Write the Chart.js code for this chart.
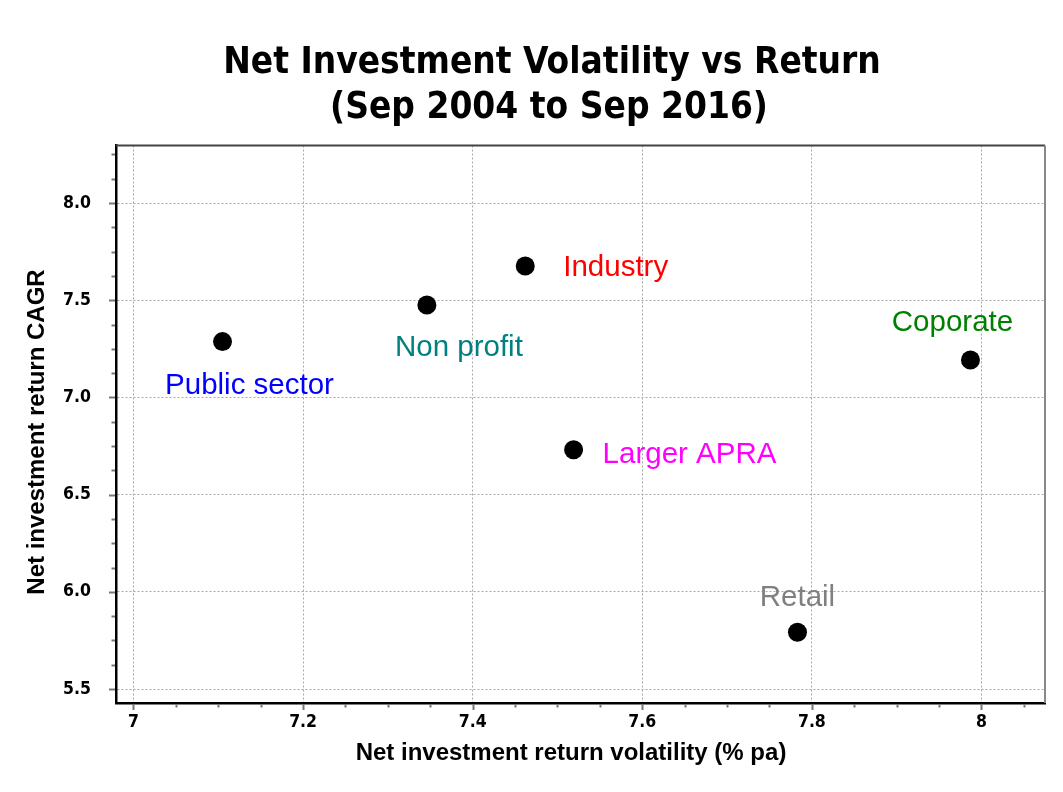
<!DOCTYPE html>
<html><head><meta charset="utf-8">
<script src="https://cdn.jsdelivr.net/npm/chart.js@4/dist/chart.umd.min.js"></script>
<style>html,body{margin:0;padding:0;background:#fff;}</style>
</head><body>
<canvas id="c" width="1063" height="792"></canvas>
<script>
// ---- data ----
const categories = ['Public sector', 'Non profit', 'Industry', 'Coporate', 'Larger APRA', 'Retail'];
const volatility = [7.105, 7.346, 7.462, 7.987, 7.519, 7.783];
const cagr = [7.287, 7.475, 7.676, 7.192, 6.731, 5.792];
const xTickValues = [7, 7.2, 7.4, 7.6, 7.8, 8];
const yTickValues = [5.5, 6.0, 6.5, 7.0, 7.5, 8.0];
const titleLines = ['Net Investment Volatility vs Return', '(Sep 2004 to Sep 2016)'];
const xAxisTitle = 'Net investment return volatility (% pa)';
const yAxisTitle = 'Net investment return CAGR';

// ---- styles ----
const labelColors = ['#0000FF', '#008080', '#FF0000', '#008000', '#FF00FF', '#808080'];
const labelOffsets = [
  {dx: 27, dy: 44, align: 'center'},
  {dx: 32, dy: 43, align: 'center'},
  {dx: 38, dy: 2, align: 'left'},
  {dx: -18, dy: -37, align: 'center'},
  {dx: 29, dy: 5, align: 'left'},
  {dx: 0, dy: -34, align: 'center'}
];
const tickFont = {family: "'DejaVu Sans Condensed', 'DejaVu Sans', sans-serif", size: 17.5, weight: 'bold'};
const titleFontCss = "bold 36.7px 'DejaVu Sans Condensed', 'DejaVu Sans', sans-serif";
const axisTitleFontCss = "bold 24px 'Liberation Sans', Arial, sans-serif";

const pointLabels = {
  id: 'pointLabels',
  afterDatasetsDraw(chart) {
    const ctx = chart.ctx;
    const meta = chart.getDatasetMeta(0);
    ctx.save();
    ctx.font = "29.5px 'Liberation Sans', Arial, sans-serif";
    ctx.textBaseline = 'middle';
    meta.data.forEach((pt, i) => {
      const o = labelOffsets[i];
      ctx.fillStyle = labelColors[i];
      ctx.textAlign = o.align;
      ctx.fillText(categories[i], pt.x + o.dx, pt.y + o.dy);
    });
    ctx.restore();
  }
};

const frame = {
  id: 'frame',
  afterDraw(chart) {
    const {ctx, chartArea: a, scales: {x, y}} = chart;
    ctx.save();
    ctx.lineWidth = 2;
    ctx.strokeStyle = '#444';
    ctx.beginPath(); ctx.moveTo(a.left, a.top); ctx.lineTo(a.right, a.top); ctx.stroke();
    ctx.strokeStyle = '#888';
    ctx.beginPath(); ctx.moveTo(a.right, a.top); ctx.lineTo(a.right, a.bottom); ctx.stroke();
    // tick marks (major + minor)
    ctx.strokeStyle = '#777';
    ctx.lineWidth = 2;
    const xs = 0.05, ys = 0.125;
    for (let k = Math.ceil(x.min / xs); k * xs <= x.max; k++) {
      const v = k * xs;
      const major = Math.abs(v / 0.2 - Math.round(v / 0.2)) < 1e-6;
      const px = Math.round(x.getPixelForValue(v)) + 0.5;
      const len = major ? 6 : 3.5;
      ctx.beginPath(); ctx.moveTo(px, a.bottom + 1); ctx.lineTo(px, a.bottom + 1 + len); ctx.stroke();
    }
    for (let k = Math.ceil(y.min / ys); k * ys <= y.max; k++) {
      const v = k * ys;
      const major = Math.abs(v / 0.5 - Math.round(v / 0.5)) < 1e-6;
      const py = Math.round(y.getPixelForValue(v)) + 0.5;
      const len = major ? 6 : 3.5;
      ctx.beginPath(); ctx.moveTo(a.left - 1, py); ctx.lineTo(a.left - 1 - len, py); ctx.stroke();
    }
    // chart title
    ctx.fillStyle = '#000';
    ctx.font = titleFontCss;
    ctx.textAlign = 'center';
    ctx.textBaseline = 'middle';
    ctx.fillText(titleLines[0], 552, 63);
    ctx.fillText(titleLines[1], 549, 108);
    // axis titles
    ctx.font = axisTitleFontCss;
    ctx.fillText(xAxisTitle, 571, 753);
    ctx.translate(37, 432);
    ctx.rotate(-Math.PI / 2);
    ctx.fillText(yAxisTitle, 0, 0);
    ctx.restore();
  }
};

new Chart(document.getElementById('c'), {
  type: 'scatter',
  data: {
    datasets: [{
      data: volatility.map((v, i) => ({x: v, y: cagr[i]})),
      backgroundColor: '#000',
      borderWidth: 0,
      pointRadius: 9.5,
      pointHoverRadius: 9.5
    }]
  },
  options: {
    responsive: false,
    animation: false,
    layout: {padding: {top: 145.5, right: 18, left: 0, bottom: 0}},
    plugins: {legend: {display: false}, tooltip: {enabled: false}, title: {display: false}},
    scales: {
      x: {
        type: 'linear', position: 'bottom',
        min: 6.9794, max: 8.0749,
        afterBuildTicks: s => { s.ticks = xTickValues.map(v => ({value: v})); },
        afterFit: s => { s.height = 89; },
        ticks: {
          callback: v => String(Math.round(v * 10) / 10),
          font: tickFont, color: '#000', padding: 9, maxRotation: 0, autoSkip: false
        },
        grid: {color: '#a8a8a8', lineWidth: 1, drawTicks: false},
        border: {display: true, color: '#000', width: 2.5, dash: [2, 2]},
        title: {display: false}
      },
      y: {
        type: 'linear', position: 'left',
        min: 5.428, max: 8.2958,
        afterBuildTicks: s => { s.ticks = yTickValues.map(v => ({value: v})); },
        afterFit: s => { s.width = 116; },
        ticks: {
          callback: v => Number(v).toFixed(1),
          font: tickFont, color: '#000', padding: 25, autoSkip: false
        },
        grid: {color: '#a8a8a8', lineWidth: 1, drawTicks: false},
        border: {display: true, color: '#000', width: 2.5, dash: [2, 2]},
        title: {display: false}
      }
    }
  },
  plugins: [pointLabels, frame]
});
</script>
</body></html>
